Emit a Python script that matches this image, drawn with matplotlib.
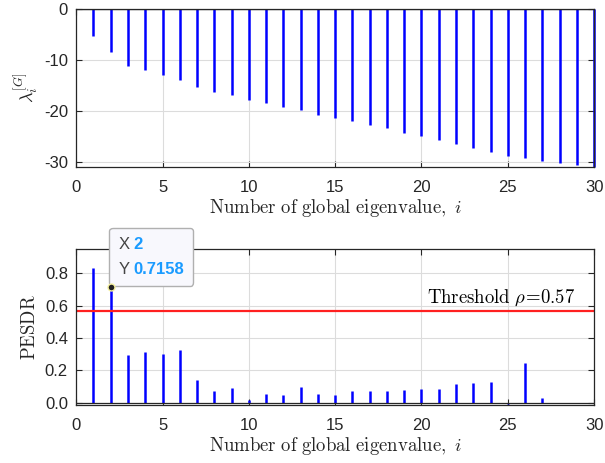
import matplotlib.pyplot as plt
import numpy as np
from matplotlib.offsetbox import AnnotationBbox, HPacker, TextArea, VPacker

plt.rcParams["font.family"] = ["Liberation Sans", "DejaVu Sans"]
plt.rcParams["mathtext.fontset"] = "cm"
plt.rcParams["axes.unicode_minus"] = False

# global eigenvalues (top) and PESDR (bottom)
idx = np.arange(1, 31)
lam = [-5.25, -8.4, -11.2, -12.0, -13.0, -13.9, -15.3, -16.2, -16.9, -17.9,
       -18.5, -19.2, -19.8, -20.7, -21.4, -22.0, -22.7, -23.4, -24.2, -24.9,
       -25.7, -26.5, -27.3, -28.1, -28.9, -29.2, -29.8, -30.2, -30.5, -31.0]
pesdr = [0.831, 0.7158, 0.292, 0.312, 0.302, 0.324, 0.142, 0.072, 0.090, 0.017,
         0.055, 0.049, 0.095, 0.055, 0.045, 0.070, 0.072, 0.072, 0.078, 0.086,
         0.086, 0.117, 0.119, 0.127, -0.008, 0.246, 0.029, 0.0, 0.0, 0.0]
threshold = 0.57
tip_x, tip_y = 2, 0.7158

ink = "#262626"
xlab = r"$\mathrm{Number\ of\ global\ eigenvalue,}\ i$"

fig = plt.figure(figsize=(6.05, 4.63), dpi=100)
ax1 = fig.add_axes([0.126, 0.639, 0.856, 0.341])
ax2 = fig.add_axes([0.126, 0.125, 0.856, 0.337])


def style(ax):
    ax.grid(True, color="#dcdcdc", lw=0.8)
    ax.set_axisbelow(True)
    ax.tick_params(direction="in", length=4, width=0.8, colors=ink,
                   labelsize=12, top=True, right=True)
    ax.tick_params(axis="x", pad=9)
    ax.tick_params(axis="y", pad=6)
    for s in ax.spines.values():
        s.set_color(ink)
        s.set_linewidth(0.9)
    ax.set_xlim(0, 30)
    ax.set_xticks(range(0, 31, 5))


ax1.vlines(idx, 0, lam, color="blue", lw=1.8, clip_on=False)
ax1.axhline(0, color=ink, lw=0.9)
style(ax1)
ax1.set_ylim(-31, 0)
ax1.set_yticks([0, -10, -20, -30])
ax1.set_xlabel(xlab, fontsize=13.5, color=ink, labelpad=2)
ax1.set_ylabel(r"$\lambda_i^{[G]}$", fontsize=13, color=ink, labelpad=2)

ax2.vlines(idx, 0, pesdr, color="blue", lw=1.8, clip_on=False)
ax2.axhline(0, color=ink, lw=0.9)
ax2.axhline(threshold, color="#ff2020", lw=1.6)
style(ax2)
ax2.set_ylim(-0.015, 0.95)
ax2.set_yticks([0, 0.2, 0.4, 0.6, 0.8])
ax2.set_xlabel(xlab, fontsize=13.5, color=ink, labelpad=2)
ax2.set_ylabel(r"$\mathrm{PESDR}$", fontsize=13.5, color=ink, labelpad=4)
ax2.text(28.9, 0.615, r"$\mathrm{Threshold}\ \rho\!=\!0.57$",
         ha="right", va="baseline", fontsize=13.5, color="black")

# data tip
ax2.plot([tip_x], [tip_y], "o", ms=5, mfc="#222222", mec="#f5f0a0", mew=1,
         zorder=8, clip_on=False)
tipc = "#1a9bff"
rows = []
for name, val in [("X", f"{tip_x}"), ("Y", f"{tip_y:.4f}")]:
    rows.append(HPacker(children=[
        TextArea(name, textprops=dict(color="#444444", fontsize=12)),
        TextArea(val, textprops=dict(color=tipc, fontsize=12, weight="bold"))],
        sep=3, align="baseline", pad=0))
box = VPacker(children=rows, sep=7, align="left", pad=0)
ab = AnnotationBbox(box, (tip_x, tip_y), xybox=(5.5, 7.5), xycoords="data",
                    boxcoords="offset points", box_alignment=(0, 0),
                    pad=0.0, frameon=True, annotation_clip=False,
                    bboxprops=dict(boxstyle="round,pad=0.65,rounding_size=0.25",
                                   fc="#f8f8fd", ec="#b0b0b0", lw=1))
ab.set_zorder(6)
ax2.add_artist(ab)

fig.savefig("out.png", dpi=100)
